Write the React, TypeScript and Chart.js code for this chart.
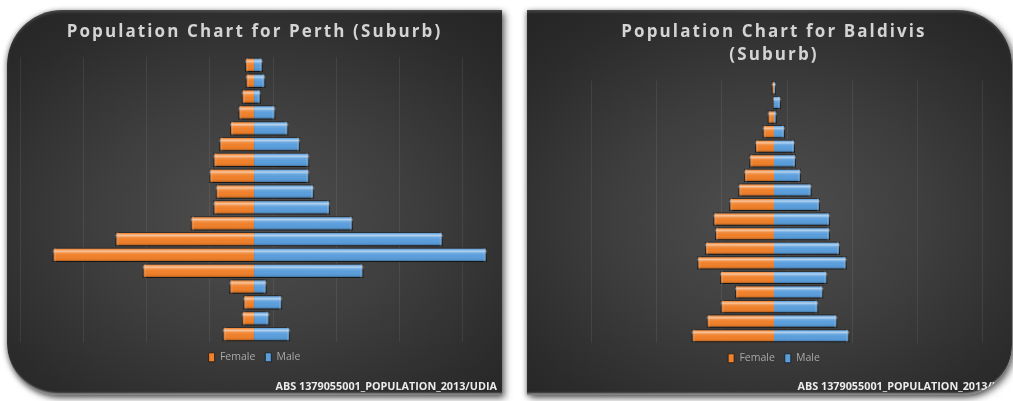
import { useEffect, useRef } from 'react';
import { Chart, registerables } from 'chart.js';

Chart.register(...registerables);

// Five-year age groups, youngest first (drawn at the bottom of each pyramid)
const ageGroups = [
  '0-4', '5-9', '10-14', '15-19', '20-24', '25-29', '30-34', '35-39', '40-44',
  '45-49', '50-54', '55-59', '60-64', '65-69', '70-74', '75-79', '80-84', '85+',
];

const seriesLabels = ['Female', 'Male'];

// Perth (suburb), persons by age group
const perthFemale = [248, 97, 85, 195, 881, 1593, 1097, 501, 322, 303, 354, 322, 275, 190, 124, 97, 66, 71];
const perthMale = [285, 121, 222, 100, 865, 1841, 1493, 781, 601, 475, 437, 437, 364, 271, 169, 53, 89, 69];

// Baldivis (suburb), persons by age group
const baldivisFemale = [1266, 1035, 820, 600, 831, 1180, 1062, 908, 934, 688, 549, 462, 380, 292, 174, 97, 11, 35];
const baldivisMale = [1158, 974, 682, 758, 820, 1118, 1015, 862, 862, 708, 580, 415, 338, 323, 169, 42, 108, 31];

const perthTitle = ['Population Chart for Perth (Suburb)'];
const baldivisTitle = ['Population Chart for Baldivis', '(Suburb)'];
const sourceNote = 'ABS 1379055001_POPULATION_2013/UDIA';

const ORANGE = '#F0802A';
const BLUE = '#5A9EDC';

// Glossy bevel on each bar: highlight band near the top, shading at the bottom and outer end
const bevelPlugin = {
  id: 'bevel',
  afterDatasetsDraw(chart: any) {
    const ctx: CanvasRenderingContext2D = chart.ctx;
    chart.data.datasets.forEach((_ds: any, di: number) => {
      const meta = chart.getDatasetMeta(di);
      if (meta.hidden) return;
      meta.data.forEach((bar: any) => {
        const { x, y, base, height } = bar.getProps(['x', 'y', 'base', 'height'], true);
        const left = Math.min(x, base);
        const w = Math.abs(x - base);
        if (w < 0.5) return;
        const top = y - height / 2;
        ctx.save();
        const g = ctx.createLinearGradient(0, top, 0, top + height);
        g.addColorStop(0, 'rgba(0,0,0,0.30)');
        g.addColorStop(0.1, 'rgba(255,255,255,0.08)');
        g.addColorStop(0.24, 'rgba(255,255,255,0.55)');
        g.addColorStop(0.38, 'rgba(255,255,255,0.12)');
        g.addColorStop(0.55, 'rgba(255,255,255,0)');
        g.addColorStop(0.82, 'rgba(0,0,0,0.06)');
        g.addColorStop(1, 'rgba(0,0,0,0.40)');
        ctx.fillStyle = g;
        ctx.fillRect(left, top, w, height);
        const capW = Math.min(3, w);
        const towardRight = x >= base;
        const cx = towardRight ? x - capW : x;
        const cg = ctx.createLinearGradient(cx, 0, cx + capW, 0);
        cg.addColorStop(towardRight ? 0 : 1, 'rgba(255,255,255,0.15)');
        cg.addColorStop(towardRight ? 1 : 0, 'rgba(0,0,0,0.35)');
        ctx.fillStyle = cg;
        ctx.fillRect(cx, top, capW, height);
        ctx.restore();
      });
    });
  },
};

// Wide tracking for the chart title only
const titleSpacingPlugin = {
  id: 'titleSpacing',
  afterLayout(chart: any, _args: any, opts: any) {
    const block = chart.titleBlock;
    if (!block || block._spaced) return;
    const draw = block.draw.bind(block);
    block.draw = (...a: any[]) => {
      const ctx = chart.ctx;
      ctx.save();
      (ctx as any).letterSpacing = opts.spacing;
      draw(...a);
      ctx.restore();
    };
    block._spaced = true;
  },
};

type PyramidProps = {
  title: string[];
  female: number[];
  male: number[];
  min: number;
  max: number;
  gridStart: number;
  gridStep: number;
  width: number;
  height: number;
  left: number;
  titlePadBottom: number;
  notePadTop: number;
};

function Pyramid(p: PyramidProps) {
  const ref = useRef<HTMLCanvasElement>(null);
  useEffect(() => {
    if (!ref.current) return;
    const gridValues: number[] = [];
    for (let v = p.gridStart; v <= p.max; v += p.gridStep) gridValues.push(v);
    const barStyle = {
      borderColor: 'rgba(28,28,28,0.85)',
      borderWidth: 1,
      barPercentage: 0.9,
      categoryPercentage: 1,
    };
    const chart = new Chart(ref.current, {
      type: 'bar',
      data: {
        labels: ageGroups,
        datasets: [
          { label: seriesLabels[0], data: p.female.map((v) => -v), backgroundColor: ORANGE, ...barStyle },
          { label: seriesLabels[1], data: p.male, backgroundColor: BLUE, ...barStyle },
        ],
      },
      options: {
        indexAxis: 'y',
        responsive: false,
        animation: false,
        events: [],
        layout: { padding: 0 },
        scales: {
          x: {
            type: 'linear',
            stacked: true,
            min: p.min,
            max: p.max,
            ticks: { display: false },
            grid: { color: 'rgba(255,255,255,0.075)', drawTicks: false, lineWidth: 1 },
            border: { display: false },
            afterBuildTicks: (scale: any) => {
              scale.ticks = gridValues.map((v) => ({ value: v }));
            },
          },
          y: { stacked: true, reverse: true, display: false },
        },
        plugins: {
          title: {
            display: true,
            text: p.title,
            color: '#d4d4d4',
            font: { family: 'Open Sans', weight: 'bold', size: 17, lineHeight: 1.36 },
            padding: { top: 10.9, bottom: p.titlePadBottom },
          },
          subtitle: {
            display: true,
            position: 'bottom',
            align: 'end',
            text: sourceNote,
            color: '#ececec',
            font: { family: 'Open Sans', weight: 'bold', size: 10.8, lineHeight: 1.2 },
            padding: { top: p.notePadTop, bottom: 2 },
          },
          legend: {
            position: 'bottom',
            labels: {
              color: '#a8a8a8',
              font: { family: 'Open Sans', size: 10.5 },
              boxWidth: 6,
              boxHeight: 9,
              padding: 10,
            },
          },
          tooltip: { enabled: false },
          titleSpacing: { spacing: '2.1px' },
        } as any,
      },
      plugins: [bevelPlugin, titleSpacingPlugin],
    } as any);
    return () => chart.destroy();
  }, []);
  return (
    <canvas
      ref={ref}
      width={p.width}
      height={p.height}
      style={{ position: 'absolute', left: p.left, top: 0, display: 'block' }}
    />
  );
}

const panelBase: React.CSSProperties = {
  position: 'absolute',
  top: 10,
  height: 385,
  overflow: 'hidden',
  background:
    'radial-gradient(ellipse 72% 68% at 50% 54%, #4f4f4f 0%, #3e3e3e 45%, #2b2b2b 85%, #262626 100%)',
  boxShadow:
    '3px 3px 7px rgba(0,0,0,0.55), -1px 1px 5px rgba(0,0,0,0.35), inset 0 3px 3px -1px rgba(255,255,255,0.16), inset 0 -4px 2px -2px rgba(255,255,255,0.45)',
};

export default function App() {
  return (
    <div
      style={{
        position: 'absolute',
        left: 0,
        top: 0,
        width: 1013,
        height: 401,
        background: '#ffffff',
        overflow: 'hidden',
      }}
    >
      <div style={{ ...panelBase, left: 7, width: 495, borderRadius: '55px 0 0 52px' }}>
        <Pyramid
          title={perthTitle}
          female={perthFemale}
          male={perthMale}
          min={-1915}
          max={1922}
          gridStart={-1850}
          gridStep={500}
          width={485}
          height={385}
          left={5}
          titlePadBottom={13.0}
          notePadTop={7.5}
        />
      </div>
      <div style={{ ...panelBase, left: 527, width: 485, borderRadius: '0 55px 50px 0' }}>
        <Pyramid
          title={baldivisTitle}
          female={baldivisFemale}
          male={baldivisMale}
          min={-3769}
          max={3769}
          gridStart={-2800}
          gridStep={1000}
          width={490}
          height={385}
          left={2}
          titlePadBottom={13.5}
          notePadTop={6.5}
        />
      </div>
    </div>
  );
}
